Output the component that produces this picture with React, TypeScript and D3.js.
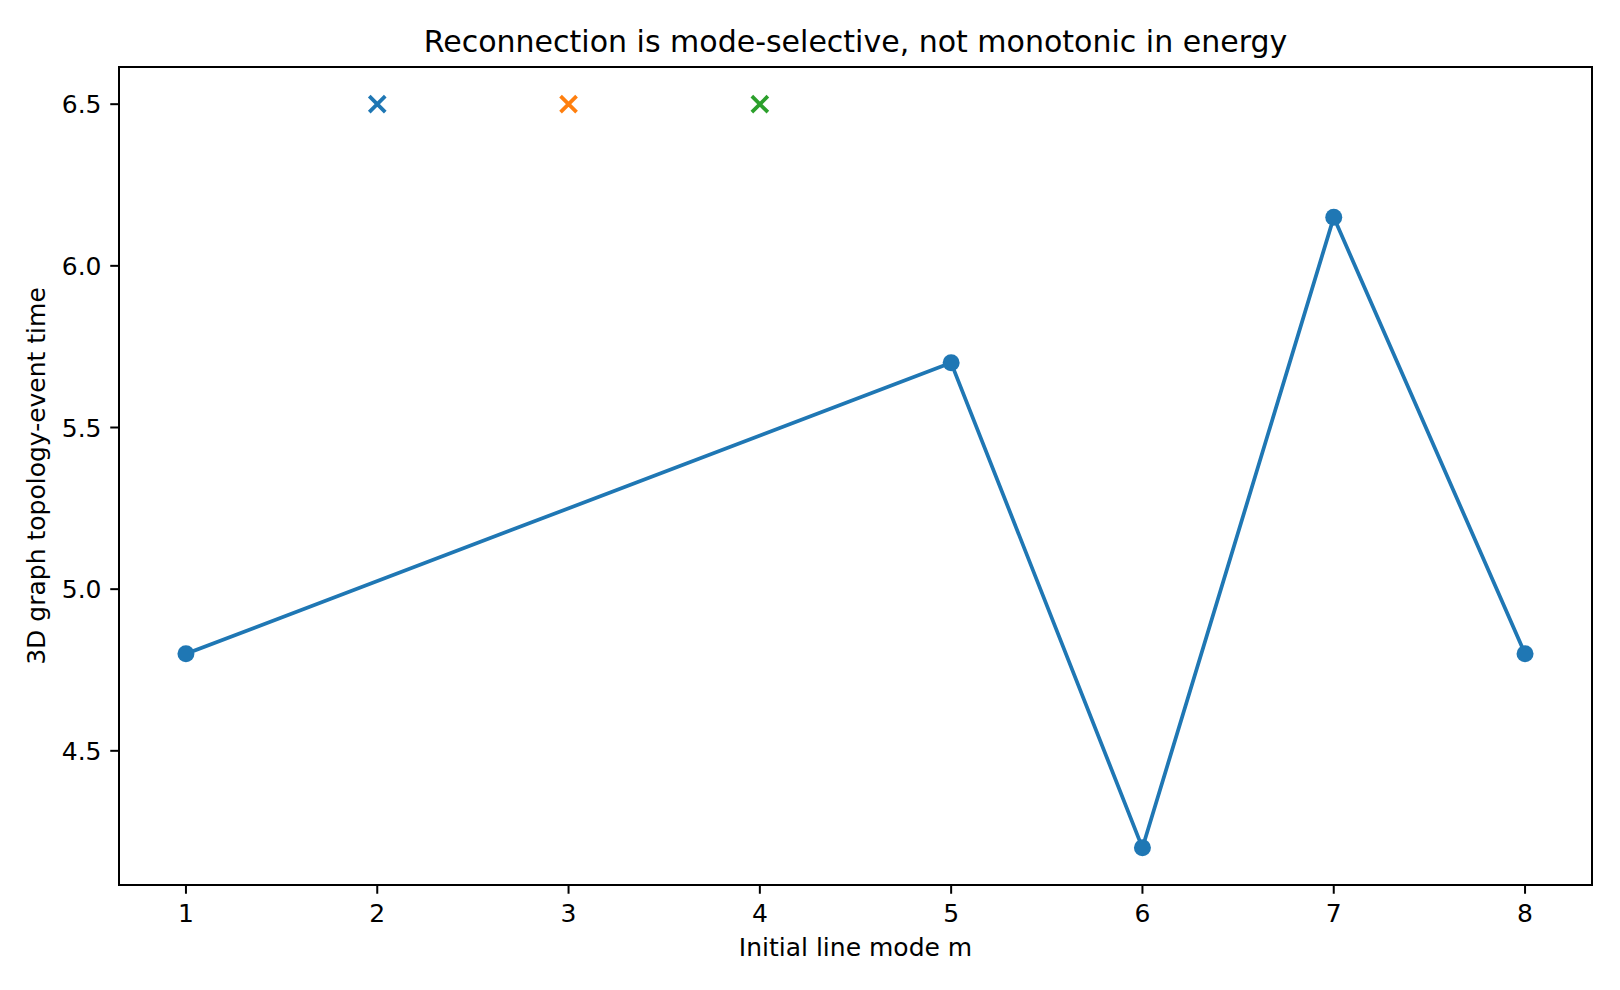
import React from "react";
import * as d3 from "d3";

const modes = [1, 5, 6, 7, 8];
const eventTimes = [4.8, 5.7, 4.2, 6.15, 4.8];
const missingModes = [2, 3, 4];
const missingY = 6.5;
const missingColors = ["#1f77b4", "#ff7f0e", "#2ca02c"];
const xTicks = [1, 2, 3, 4, 5, 6, 7, 8];
const yTicks = [4.5, 5.0, 5.5, 6.0, 6.5];

const W = 1620;
const H = 990;
const L = 119, R = 1592, T = 67, B = 885;
const S = 180 / 72;

export default function App() {
  const x = d3.scaleLinear().domain([0.65, 8.35]).range([L, R]);
  const y = d3.scaleLinear().domain([4.085, 6.615]).range([B, T]);
  const line = d3
    .line<number>()
    .x((_, i) => x(modes[i]))
    .y((d) => y(d));
  const font = "DejaVu Sans";
  const tickFs = 10 * S;
  const ms = 3.4 * S;
  return (
    <svg width={W} height={H} style={{ position: "absolute", left: 0, top: 0 }} fontFamily={font}>
      <rect width={W} height={H} fill="white" />
      <path d={line(eventTimes) || ""} fill="none" stroke="#1f77b4" strokeWidth={1.5 * S} strokeLinejoin="round" strokeLinecap="square" />
      {eventTimes.map((v, i) => (
        <circle key={i} cx={x(modes[i])} cy={y(v)} r={ms} fill="#1f77b4" />
      ))}
      {missingModes.map((m, i) => {
        const cx = x(m), cy = y(missingY), h = 3.2 * S;
        return (
          <path
            key={m}
            d={`M${cx - h},${cy - h}L${cx + h},${cy + h}M${cx - h},${cy + h}L${cx + h},${cy - h}`}
            stroke={missingColors[i]}
            strokeWidth={1.5 * S}
            fill="none"
          />
        );
      })}
      <rect x={L} y={T} width={R - L} height={B - T} fill="none" stroke="black" strokeWidth={0.8 * S} />
      {xTicks.map((t) => (
        <g key={t}>
          <line x1={x(t)} x2={x(t)} y1={B} y2={B + 3.5 * S} stroke="black" strokeWidth={0.8 * S} />
          <text x={x(t)} y={922} textAnchor="middle" fontSize={tickFs}>
            {t}
          </text>
        </g>
      ))}
      {yTicks.map((t) => (
        <g key={t}>
          <line x1={L} x2={L - 3.5 * S} y1={y(t)} y2={y(t)} stroke="black" strokeWidth={0.8 * S} />
          <text x={L - 7 * S} y={y(t)} dy="0.36em" textAnchor="end" fontSize={tickFs}>
            {t.toFixed(1)}
          </text>
        </g>
      ))}
      <text x={(L + R) / 2} y={956} textAnchor="middle" fontSize={tickFs}>
        Initial line mode m
      </text>
      <text
        transform={`translate(45,${(T + B) / 2}) rotate(-90)`}
        textAnchor="middle"
        fontSize={tickFs}
      >
        3D graph topology-event time
      </text>
      <text x={(L + R) / 2} y={52} textAnchor="middle" fontSize={12 * S}>
        Reconnection is mode-selective, not monotonic in energy
      </text>
    </svg>
  );
}
